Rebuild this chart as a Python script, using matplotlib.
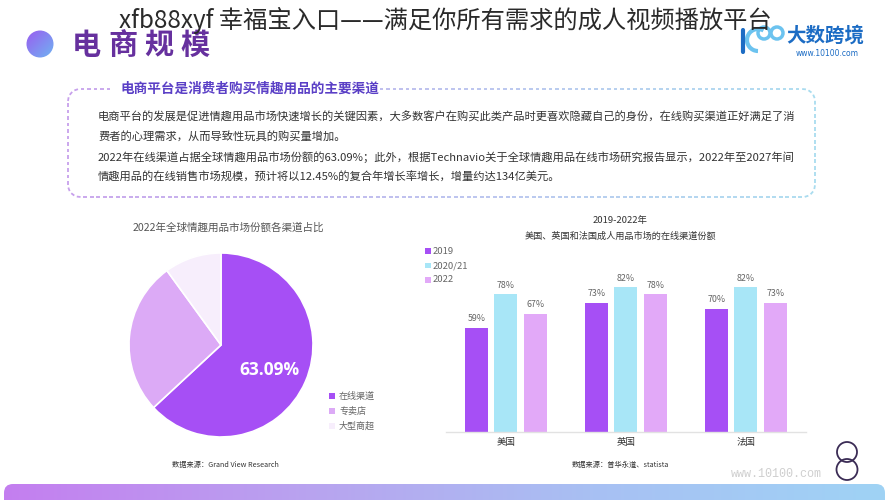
import numpy as np
import matplotlib
matplotlib.use('Agg')
import matplotlib.pyplot as plt
from matplotlib.patches import Circle, Rectangle, FancyBboxPatch, Arc
from matplotlib.collections import LineCollection
from matplotlib.colors import LinearSegmentedColormap, to_rgb

plt.rcParams['font.family'] = ['Noto Sans CJK SC', 'DejaVu Sans']

# ---------------- data / texts ----------------
page_title = 'xfb88xyf 幸福宝入口——满足你所有需求的成人视频播放平台'
section_title = '电商规模'
box_heading = '电商平台是消费者购买情趣用品的主要渠道'
body_lines = [
    '电商平台的发展是促进情趣用品市场快速增长的关键因素，大多数客户在购买此类产品时更喜欢隐藏自己的身份，在线购买渠道正好满足了消',
    '费者的心理需求，从而导致性玩具的购买量增加。',
    '2022年在线渠道占据全球情趣用品市场份额的63.09%；此外，根据Technavio关于全球情趣用品在线市场研究报告显示，2022年至2027年间',
    '情趣用品的在线销售市场规模，预计将以12.45%的复合年增长率增长，增量约达134亿美元。',
]
pie_title = '2022年全球情趣用品市场份额各渠道占比'
pie_labels = ['在线渠道', '专卖店', '大型商超']
pie_values = [63.09, 26.91, 10.00]
pie_source = '数据来源：Grand View Research'

bar_title = ['2019-2022年', '美国、英国和法国成人用品市场的在线渠道份额']
countries = ['美国', '英国', '法国']
years = ['2019', '2020/21', '2022']
share_2019 = [59, 73, 70]
share_2020_21 = [78, 82, 82]
share_2022 = [67, 78, 73]
bar_source = '数据来源：普华永道、statista'

logo_name = '大数跨境'
logo_url = 'www.10100.com'
watermark = 'www.10100.com'

pie_colors = ['#a64ff5', '#dcaaf6', '#f7eefc']
bar_colors = ['#a64ff5', '#a8e6f7', '#e2a9f8']

# ---------------- figure ----------------
W, H = 889, 500
fig = plt.figure(figsize=(W / 100, H / 100), dpi=100)
base = fig.add_axes([0, 0, 1, 1])
base.set_xlim(0, W)
base.set_ylim(H, 0)
base.axis('off')

# gradient circle
grad = np.linspace(0, 1, 64)
gx, gy = np.meshgrid(grad, grad)
circ_cmap = LinearSegmentedColormap.from_list('c', ['#9a5cf0', '#6fb4f2'])
im = base.imshow((gx * 0.5 + gy * 0.5), cmap=circ_cmap, extent=(26, 54, 58, 30),
                 zorder=3, interpolation='bilinear')
cp = Circle((40, 44), 13.5, transform=base.transData, facecolor='none', edgecolor='none')
base.add_patch(cp)
im.set_clip_path(cp)

# section title
for i, ch in enumerate(section_title):
    base.text(72 + i * 36, 45, ch, ha='left', va='center', fontsize=21,
              fontweight='bold', color='#66309e')

# logo
base.text(786, 36, logo_name, ha='left', va='center', fontsize=14,
          fontweight='bold', color='#1c6cc4')
base.text(827, 54, logo_url, ha='center', va='center', fontsize=5.5,
          color='#1c6cc4', family=['DejaVu Sans'])
base.plot([743, 743], [30, 52], color='#1c6cc4', lw=3, solid_capstyle='round')
base.add_patch(Arc((758, 40), 22, 22, theta1=90, theta2=300, color='#6cc3ef', lw=3))
base.add_patch(Circle((764, 33), 6, facecolor='none', edgecolor='#6cc3ef', lw=2.5))
base.add_patch(Circle((777, 33), 6, facecolor='none', edgecolor='#6cc3ef', lw=2.5))

# page title (drawn over logo like the reference)
base.text(445, 20, page_title, ha='center', va='center', fontsize=17.5,
          color='#2a2a2a', zorder=5, fontweight='light')

# dashed gradient rounded box
x0, y0, x1, y1, r = 68, 89, 815, 197, 12
pts = []
def arc_pts(cx, cy, a0, a1, n=20):
    t = np.radians(np.linspace(a0, a1, n))
    return np.column_stack([cx + r * np.cos(t), cy + r * np.sin(t)])
pts.append(arc_pts(x0 + r, y0 + r, 180, 270))
pts.append(np.array([[x0 + r, y0], [x1 - r, y0]]))
pts.append(arc_pts(x1 - r, y0 + r, 270, 360))
pts.append(np.array([[x1, y0 + r], [x1, y1 - r]]))
pts.append(arc_pts(x1 - r, y1 - r, 0, 90))
pts.append(np.array([[x1 - r, y1], [x0 + r, y1]]))
pts.append(arc_pts(x0 + r, y1 - r, 90, 180))
pts.append(np.array([[x0, y1 - r], [x0, y0 + r]]))
poly = np.vstack(pts)
seg_len = np.hypot(*np.diff(poly, axis=0).T)
cum = np.concatenate([[0], np.cumsum(seg_len)])
L = cum[-1]
def at(s):
    return np.array([np.interp(s, cum, poly[:, 0]), np.interp(s, cum, poly[:, 1])])
segs, cols = [], []
c_left, c_right = np.array(to_rgb('#c7a0ec')), np.array(to_rgb('#a9dcef'))
for s in np.arange(0, L, 6.5):
    a, b = at(s), at(min(s + 3.8, L))
    if abs(a[1] - y0) < 0.5 and abs(b[1] - y0) < 0.5 and 112 < (a[0] + b[0]) / 2 < 370:
        continue
    segs.append([a, b])
    t = ((a[0] + b[0]) / 2 - x0) / (x1 - x0)
    cols.append(tuple(c_left * (1 - t) + c_right * t))
base.add_collection(LineCollection(segs, colors=cols, linewidths=1.3))

base.text(120, 89, box_heading, ha='left', va='center', fontsize=9.8,
          fontweight='bold', color='#5a3fc6')
for i, line in enumerate(body_lines):
    base.text(98, 117 + i * 20, line, ha='left', va='center', fontsize=8.1,
              color='#333333')

# ---------------- pie chart ----------------
base.text(133, 228, pie_title, ha='left', va='center', fontsize=7.6, color='#555555')
cx, cy, rad = 221, 345, 92
ax_p = fig.add_axes([(cx - rad) / W, (H - cy - rad) / H, 2 * rad / W, 2 * rad / H])
ax_p.pie(pie_values, colors=pie_colors, startangle=90, counterclock=False,
         wedgeprops=dict(edgecolor='white', linewidth=1.2))
ax_p.set_xlim(-1, 1)
ax_p.set_ylim(-1, 1)
ax_p.set_aspect('auto')
ax_p.axis('off')
ax_p.text(0.53, -0.27, f'{pie_values[0]:.2f}%', ha='center', va='center',
          fontsize=12.5, fontweight='bold', color='white', family=['Open Sans', 'DejaVu Sans'])

for i, (lab, col) in enumerate(zip(pie_labels, pie_colors)):
    yy = 396 + i * 15
    base.add_patch(Rectangle((329, yy - 3), 6, 6, facecolor=col, edgecolor='none'))
    base.text(339, yy, lab, ha='left', va='center', fontsize=6.5, color='#666666')
base.text(172, 465, pie_source, ha='left', va='center', fontsize=5.2, color='#333333')

# ---------------- bar chart ----------------
base.text(620, 220, bar_title[0], ha='center', va='center', fontsize=6.8, color='#333333')
base.text(620, 236, bar_title[1], ha='center', va='center', fontsize=6.6, color='#333333')
px_per_pct = 1.763
ax_b = fig.add_axes([446 / W, (H - 432) / H, 360 / W, 100 * px_per_pct / H])
ax_b.set_facecolor('none')
xpos = np.arange(len(countries))
step, width = 29.5 / 120, 23 / 120
for k, (vals, col) in enumerate(zip([share_2019, share_2020_21, share_2022], bar_colors)):
    cont = ax_b.bar(xpos + (k - 1) * step, vals, width=width, color=col, zorder=2)
    ax_b.bar_label(cont, labels=[f'{v}%' for v in vals], padding=3.5,
                   fontsize=6.4, color='#666666')
ax_b.set_xlim(-0.5, 2.5)
ax_b.set_ylim(0, 100)
for sp in ['top', 'right', 'left']:
    ax_b.spines[sp].set_visible(False)
ax_b.spines['bottom'].set_color('#e2e2e2')
ax_b.spines['bottom'].set_linewidth(1)
ax_b.set_yticks([])
ax_b.set_xticks(xpos)
ax_b.set_xticklabels(countries, fontsize=6.8, color='#333333')
ax_b.tick_params(axis='x', length=0, pad=4.5)

for i, (lab, col) in enumerate(zip(years, bar_colors)):
    yy = 251 + i * 14.5
    base.add_patch(Rectangle((425, yy - 3), 5.5, 5.5, facecolor=col, edgecolor='none'))
    base.text(433, yy, lab, ha='left', va='center', fontsize=6.8, color='#666666')
base.text(620, 465, bar_source, ha='center', va='center', fontsize=5.2, color='#333333')

# watermark & decorative logo
base.text(776, 474, watermark, ha='center', va='center', fontsize=8.5, color='#cfcfcf',
          family=['Liberation Mono', 'DejaVu Sans Mono'])
base.add_patch(Circle((847, 452), 10, facecolor='none', edgecolor='#3b2c55', lw=1.3))
base.add_patch(Circle((847, 469.5), 10.5, facecolor='none', edgecolor='#3b2c55', lw=1.3))

# bottom gradient band
band_cmap = LinearSegmentedColormap.from_list('b', ['#c47ef0', '#b9a2ef', '#a8c0f3', '#9fd3f5'])
bim = base.imshow(np.linspace(0, 1, 256)[None, :], cmap=band_cmap, aspect='auto',
                  extent=(0, W, 502, 483), interpolation='bilinear', zorder=1)
band = FancyBboxPatch((4, 484), W - 8, 30, boxstyle='round,pad=0,rounding_size=9',
                      transform=base.transData, facecolor='none', edgecolor='none')
base.add_patch(band)
bim.set_clip_path(band)
base.set_xlim(0, W)
base.set_ylim(H, 0)

fig.savefig('out.png', dpi=100)
